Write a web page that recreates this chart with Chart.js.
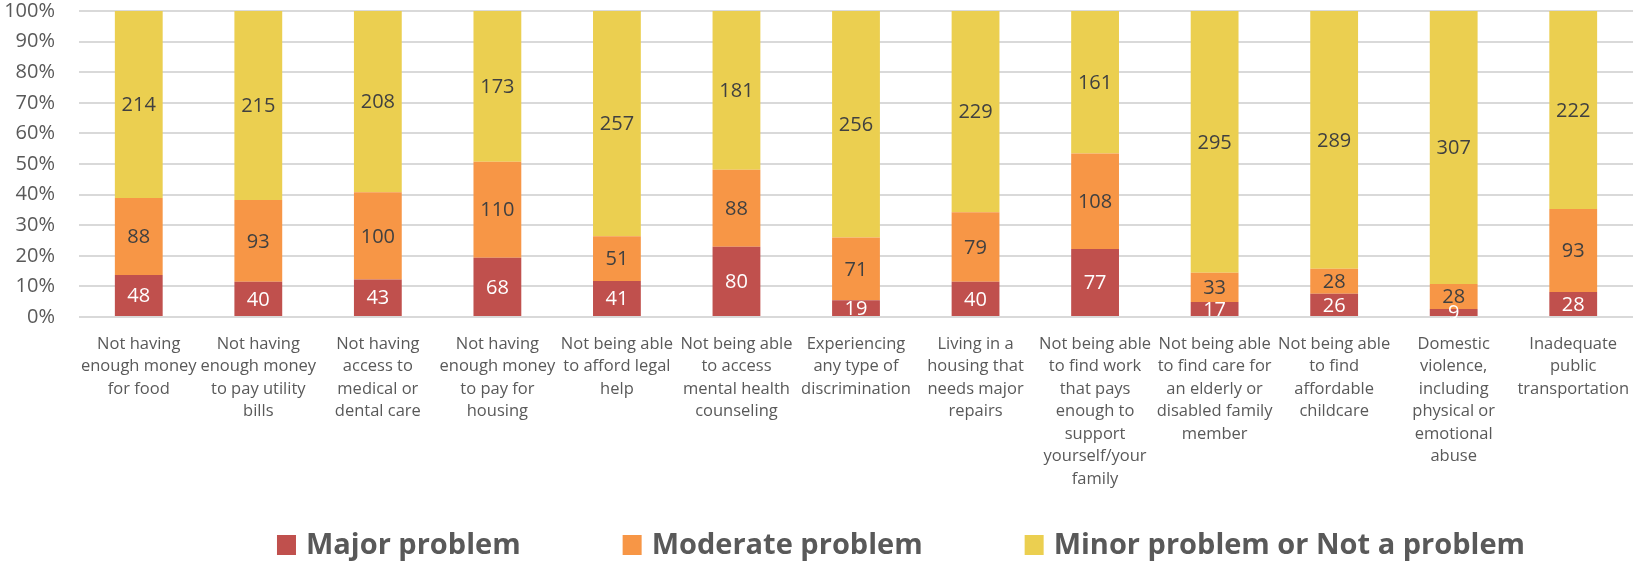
<!DOCTYPE html>
<html>
<head>
<meta charset="utf-8">
<script src="https://cdn.jsdelivr.net/npm/chart.js@4"></script>
<style>
  html, body { margin: 0; padding: 0; background: #fff; }
  #wrap { width: 1633px; height: 563px; }
</style>
</head>
<body>
<div id="wrap"><canvas id="chart"></canvas></div>
<script>
const categories = [
  ['Not having', 'enough money', 'for food'],
  ['Not having', 'enough money', 'to pay utility', 'bills'],
  ['Not having', 'access to', 'medical or', 'dental care'],
  ['Not having', 'enough money', 'to pay for', 'housing'],
  ['Not being able', 'to afford legal', 'help'],
  ['Not being able', 'to access', 'mental health', 'counseling'],
  ['Experiencing', 'any type of', 'discrimination'],
  ['Living in a', 'housing that', 'needs major', 'repairs'],
  ['Not being able', 'to find work', 'that pays', 'enough to', 'support', 'yourself/your', 'family'],
  ['Not being able', 'to find care for', 'an elderly or', 'disabled family', 'member'],
  ['Not being able', 'to find', 'affordable', 'childcare'],
  ['Domestic', 'violence,', 'including', 'physical or', 'emotional', 'abuse'],
  ['Inadequate', 'public', 'transportation']
];
const majorProblem = [48, 40, 43, 68, 41, 80, 19, 40, 77, 17, 26, 9, 28];
const moderateProblem = [88, 93, 100, 110, 51, 88, 71, 79, 108, 33, 28, 28, 93];
const minorProblem = [214, 215, 208, 173, 257, 181, 256, 229, 161, 295, 289, 307, 222];
const seriesNames = ['Major problem', 'Moderate problem', 'Minor problem or Not a problem'];
const yTicks = [0, 10, 20, 30, 40, 50, 60, 70, 80, 90, 100];

const counts = [majorProblem, moderateProblem, minorProblem];
const totals = majorProblem.map((v, i) => v + moderateProblem[i] + minorProblem[i]);
const toPct = (arr) => arr.map((v, i) => v / totals[i] * 100);

const colors = ['#C0504D', '#F79646', '#EBCF50'];
const labelColors = ['#ffffff', '#404040', '#404040'];
const FONT = "'Open Sans', sans-serif";

// draws the count in the middle of each segment
const segmentLabels = {
  id: 'segmentLabels',
  afterDatasetsDraw(chart) {
    const ctx = chart.ctx;
    ctx.save();
    ctx.font = '20px ' + FONT;
    ctx.textAlign = 'center';
    ctx.textBaseline = 'middle';
    chart.data.datasets.forEach((ds, di) => {
      const meta = chart.getDatasetMeta(di);
      meta.data.forEach((bar, i) => {
        ctx.fillStyle = labelColors[di];
        ctx.fillText(String(counts[di][i]), bar.x, (bar.y + bar.base) / 2 + 1);
      });
    });
    ctx.restore();
  }
};

// legend with wide gaps between entries, drawn under the axis labels
const wideLegend = {
  id: 'wideLegend',
  afterDraw(chart) {
    const ctx = chart.ctx;
    const boxW = 19, boxH = 20, textGap = 10, itemGap = 102;
    const cy = 545, centerX = 901;
    ctx.save();
    ctx.font = 'bold 29px ' + FONT;
    ctx.textBaseline = 'middle';
    const items = chart.data.datasets.map(ds => ({
      text: ds.label, color: ds.backgroundColor, w: ctx.measureText(ds.label).width
    }));
    const total = items.reduce((s, it) => s + boxW + textGap + it.w, 0) + itemGap * (items.length - 1);
    let x = centerX - total / 2;
    items.forEach(it => {
      ctx.fillStyle = it.color;
      ctx.fillRect(x, cy - boxH / 2, boxW, boxH);
      ctx.fillStyle = '#595959';
      ctx.fillText(it.text, x + boxW + textGap, cy + 1);
      x += boxW + textGap + it.w + itemGap;
    });
    ctx.restore();
  }
};

new Chart(document.getElementById('chart'), {
  type: 'bar',
  data: {
    labels: categories,
    datasets: counts.map((arr, k) => ({
      label: seriesNames[k],
      data: toPct(arr),
      backgroundColor: colors[k],
      borderWidth: 0,
      barPercentage: 0.4,
      categoryPercentage: 1
    }))
  },
  options: {
    responsive: true,
    maintainAspectRatio: false,
    animation: false,
    layout: { padding: { left: 0, right: 0, top: 0, bottom: 70 } },
    plugins: {
      legend: { display: false },
      tooltip: { enabled: false }
    },
    scales: {
      x: {
        stacked: true,
        grid: { display: false },
        border: { display: false },
        ticks: {
          autoSkip: false,
          maxRotation: 0,
          padding: 8,
          color: '#595959',
          font: { family: FONT, size: 16.5, lineHeight: 1.36 }
        },
        afterFit(scale) {
          scale.height = 176;
          scale.paddingLeft = 0;
          scale.paddingRight = 0;
        }
      },
      y: {
        stacked: true,
        min: 0,
        max: 100,
        afterBuildTicks(scale) { scale.ticks = yTicks.map(v => ({ value: v })); },
        grid: { color: '#d9d9d9', lineWidth: 2, drawTicks: false },
        border: { display: false },
        ticks: {
          padding: 24,
          color: '#595959',
          font: { family: FONT, size: 20 },
          callback: (v) => v + '%'
        },
        afterFit(scale) {
          scale.width = 79;
          scale.paddingTop = 11;
          scale.paddingBottom = 0;
        }
      }
    }
  },
  plugins: [segmentLabels, wideLegend]
});
</script>
</body>
</html>
